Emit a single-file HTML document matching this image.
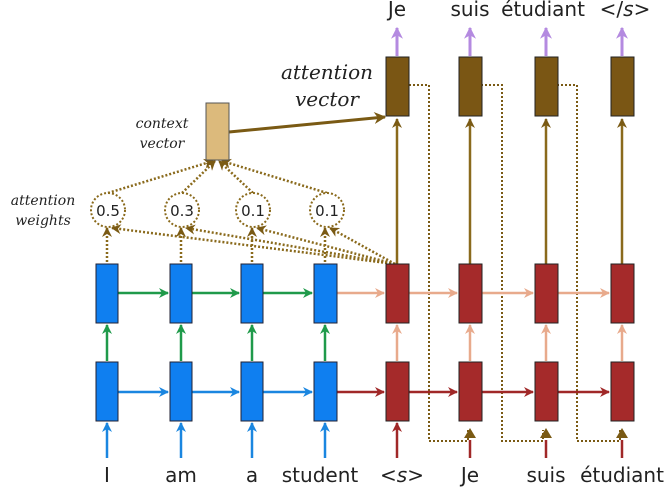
<!DOCTYPE html>
<html><head><meta charset="utf-8"><style>
html,body{margin:0;padding:0;background:#fff;}
svg{display:block;}
text{font-family:"DejaVu Sans","Liberation Sans",sans-serif;fill:#222;}
</style></head><body>
<svg width="672" height="494" viewBox="0 0 672 494" xmlns="http://www.w3.org/2000/svg">
<defs>
<marker id="ab" viewBox="0 0 10 10" refX="9" refY="5" markerWidth="4" markerHeight="4" orient="auto"><path d="M0,0L10,5L0,10L3,5z" fill="#1a86e0"/></marker>
<marker id="ag" viewBox="0 0 10 10" refX="9" refY="5" markerWidth="4" markerHeight="4" orient="auto"><path d="M0,0L10,5L0,10L3,5z" fill="#1f9a4a"/></marker>
<marker id="ap" viewBox="0 0 10 10" refX="9" refY="5" markerWidth="4" markerHeight="4" orient="auto"><path d="M0,0L10,5L0,10L3,5z" fill="#e8aa8c"/></marker>
<marker id="ar" viewBox="0 0 10 10" refX="9" refY="5" markerWidth="4" markerHeight="4" orient="auto"><path d="M0,0L10,5L0,10L3,5z" fill="#a02828"/></marker>
<marker id="ao" viewBox="0 0 10 10" refX="9" refY="5" markerWidth="4" markerHeight="4" orient="auto"><path d="M0,0L10,5L0,10L3,5z" fill="#7a5a14"/></marker>
<marker id="av" viewBox="0 0 10 10" refX="9" refY="5" markerWidth="4" markerHeight="4" orient="auto"><path d="M0,0L10,5L0,10L3,5z" fill="#b48ae0"/></marker>
</defs>

<!-- dotted feed lines from attention vectors -->
<g fill="none" stroke="#7a5a14" stroke-width="2" stroke-dasharray="2,2">
<path d="M409,85 H429 V441 H468 V430"/>
<path d="M481,85 H502 V441 H543 V430"/>
<path d="M557,85 H577 V441 H620 V430"/>
</g>
<g fill="#7a5a14">
<path d="M464,438 L470,428 L476,438z"/><path d="M540,438 L546,428 L552,438z"/><path d="M616,438 L622,428 L628,438z"/>
</g>

<!-- attention dotted lines -->
<g fill="none" stroke="#8a6a1c" stroke-width="2.5" stroke-dasharray="2,2" marker-end="url(#ao)">
<line x1="107" y1="262" x2="107" y2="228"/>
<line x1="181" y1="262" x2="181" y2="228"/>
<line x1="252" y1="262" x2="252" y2="228"/>
<line x1="325" y1="262" x2="325" y2="228"/>
<line x1="395" y1="264" x2="112" y2="228"/>
<line x1="395" y1="264" x2="186" y2="228"/>
<line x1="395" y1="264" x2="257" y2="228"/>
<line x1="395" y1="264" x2="330" y2="228"/>
<line x1="108" y1="193" x2="213" y2="161"/>
<line x1="182" y1="193" x2="215" y2="161"/>
<line x1="253" y1="193" x2="219" y2="161"/>
<line x1="327" y1="193" x2="222" y2="161"/>
</g>
<g fill="#fff" stroke="#8a6a1c" stroke-width="2" stroke-dasharray="2,2">
<ellipse cx="108" cy="210" rx="17" ry="17"/>
<ellipse cx="182" cy="210" rx="17" ry="17"/>
<ellipse cx="253" cy="210" rx="17" ry="17"/>
<ellipse cx="327" cy="210" rx="17" ry="17"/>
</g>
<g font-size="15" text-anchor="middle">
<text x="108" y="216">0.5</text><text x="182" y="216">0.3</text><text x="253" y="216">0.1</text><text x="327" y="216">0.1</text>
</g>

<!-- context vector -->
<line x1="229" y1="132" x2="385" y2="117" stroke="#7a5a14" stroke-width="3" marker-end="url(#ao)"/>
<rect x="206" y="103" width="23" height="57" fill="#dcba7c" stroke="#555" stroke-width="1"/>

<!-- vertical decoder top to attention -->
<g stroke="#8a6a1c" stroke-width="2.5" marker-end="url(#ao)">
<line x1="397" y1="264" x2="397" y2="119"/>
<line x1="470" y1="264" x2="470" y2="119"/>
<line x1="546" y1="264" x2="546" y2="119"/>
<line x1="622" y1="264" x2="622" y2="119"/>
</g>
<g stroke="#b48ae0" stroke-width="3" marker-end="url(#av)">
<line x1="397" y1="56" x2="397" y2="28"/>
<line x1="470" y1="56" x2="470" y2="28"/>
<line x1="546" y1="56" x2="546" y2="28"/>
<line x1="622" y1="56" x2="622" y2="28"/>
</g>
<g fill="#7a5614" stroke="#222" stroke-width="1">
<rect x="386" y="57" width="23" height="59"/><rect x="459" y="57" width="23" height="59"/>
<rect x="535" y="57" width="23" height="59"/><rect x="611" y="57" width="23" height="59"/>
</g>

<!-- encoder arrows -->
<g stroke="#1a86e0" stroke-width="2.5" marker-end="url(#ab)">
<line x1="107" y1="458" x2="107" y2="423"/><line x1="181" y1="458" x2="181" y2="423"/>
<line x1="252" y1="458" x2="252" y2="423"/><line x1="325" y1="458" x2="325" y2="423"/>
<line x1="118" y1="392" x2="168" y2="392"/><line x1="192" y1="392" x2="239" y2="392"/><line x1="263" y1="392" x2="312" y2="392"/>
</g>
<g stroke="#1f9a4a" stroke-width="2.5" marker-end="url(#ag)">
<line x1="107" y1="361" x2="107" y2="325"/><line x1="181" y1="361" x2="181" y2="325"/>
<line x1="252" y1="361" x2="252" y2="325"/><line x1="325" y1="361" x2="325" y2="325"/>
<line x1="118" y1="293" x2="168" y2="293"/><line x1="192" y1="293" x2="239" y2="293"/><line x1="263" y1="293" x2="312" y2="293"/>
</g>
<!-- decoder arrows -->
<g stroke="#e8aa8c" stroke-width="2.5" marker-end="url(#ap)">
<line x1="337" y1="293" x2="384" y2="293"/><line x1="409" y1="293" x2="457" y2="293"/>
<line x1="482" y1="293" x2="533" y2="293"/><line x1="558" y1="293" x2="609" y2="293"/>
<line x1="397" y1="361" x2="397" y2="325"/><line x1="470" y1="361" x2="470" y2="325"/>
<line x1="546" y1="361" x2="546" y2="325"/><line x1="622" y1="361" x2="622" y2="325"/>
</g>
<g stroke="#a02828" stroke-width="2.5" marker-end="url(#ar)">
<line x1="337" y1="392" x2="384" y2="392"/><line x1="409" y1="392" x2="457" y2="392"/>
<line x1="482" y1="392" x2="533" y2="392"/><line x1="558" y1="392" x2="609" y2="392"/>
<line x1="397" y1="458" x2="397" y2="423"/>
</g>
<g stroke="#a02828" stroke-width="2.5">
<line x1="470" y1="458" x2="470" y2="440"/><line x1="546" y1="458" x2="546" y2="440"/><line x1="622" y1="458" x2="622" y2="440"/>
</g>

<!-- boxes -->
<g fill="#0f7ff0" stroke="#223" stroke-width="1">
<rect x="96" y="264" width="22" height="59"/><rect x="170" y="264" width="22" height="59"/>
<rect x="241" y="264" width="22" height="59"/><rect x="314" y="264" width="23" height="59"/>
<rect x="96" y="362" width="22" height="59"/><rect x="170" y="362" width="22" height="59"/>
<rect x="241" y="362" width="22" height="59"/><rect x="314" y="362" width="23" height="59"/>
</g>
<g fill="#a52a2a" stroke="#222" stroke-width="1">
<rect x="386" y="264" width="23" height="59"/><rect x="459" y="264" width="23" height="59"/>
<rect x="535" y="264" width="23" height="59"/><rect x="611" y="264" width="23" height="59"/>
<rect x="386" y="362" width="23" height="59"/><rect x="459" y="362" width="23" height="59"/>
<rect x="535" y="362" width="23" height="59"/><rect x="611" y="362" width="23" height="59"/>
</g>

<!-- labels -->
<g font-size="20" text-anchor="middle">
<text x="107" y="482">I</text><text x="181" y="482">am</text><text x="252" y="482">a</text>
<text x="320" y="482">student</text><text x="402" y="482">&lt;<tspan font-style="italic">s</tspan>&gt;</text>
<text x="470" y="482">Je</text><text x="546" y="482">suis</text><text x="622" y="482">étudiant</text>
<text x="397" y="16">Je</text><text x="470" y="16">suis</text><text x="543" y="16">étudiant</text>
<text x="625" y="16">&lt;/<tspan font-style="italic">s</tspan>&gt;</text>
</g>
<g font-family="'DejaVu Serif','Liberation Serif',serif" font-style="italic" text-anchor="middle" fill="#333">
<text x="327" y="79" font-size="20" style="font-family:'DejaVu Serif',serif">attention</text>
<text x="327" y="106" font-size="20" style="font-family:'DejaVu Serif',serif">vector</text>
<text x="162" y="128" font-size="14" style="font-family:'DejaVu Serif',serif">context</text>
<text x="162" y="148" font-size="14" style="font-family:'DejaVu Serif',serif">vector</text>
<text x="43" y="205" font-size="14" style="font-family:'DejaVu Serif',serif">attention</text>
<text x="43" y="225" font-size="14" style="font-family:'DejaVu Serif',serif">weights</text>
</g>
</svg>
</body></html>
